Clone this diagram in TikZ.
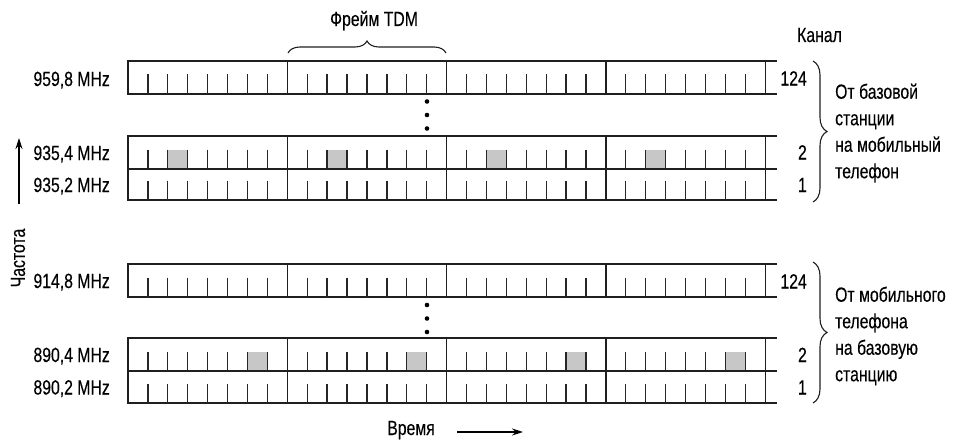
\documentclass[tikz,border=0pt]{standalone}
\usepackage{fontspec}
\setmainfont[FakeStretch=0.77,FakeBold=0.3]{Liberation Sans}
\usetikzlibrary{decorations.pathreplacing,arrows.meta}
\begin{document}
\begin{tikzpicture}[x=1pt,y=-1pt,
  rowline/.style={line width=1.3pt, draw=black!88},
  tickline/.style={line width=1.3pt, draw=black!85},
  lbl/.style={font=\fontsize{20.5}{26.5}\selectfont, inner sep=0pt},
  slotfill/.style={fill=black!22},
  dotmark/.style={circle, fill=black, inner sep=0pt, minimum size=4.6pt},
  bracedeco/.style={decorate, decoration={brace, amplitude=#1}, line width=1.1pt, draw=black!88},
  axisarrow/.style={-{Stealth[length=11pt,width=7pt]}, line width=1.2pt},
]
\useasboundingbox (0,0) rectangle (956,444);
\def\xL{128}\def\fw{159.3}\def\sw{19.9125}\def\xR{777}\def\th{19.5}
% rows: top/bottom/shaded slot
\foreach \t/\b/\s in {61/94/0,136/169/3,169/200/0,264/297/0,338/371/7,371/403/0}{
  \ifnum\s>0
    \foreach \f in {0,...,3}{
      \fill[slotfill] ({\xL+\f*\fw+(\s-1)*\sw},{\b-\th}) rectangle ({\xL+\f*\fw+\s*\sw},\b);
    }
  \fi
  \draw[rowline] (\xR,\t) -- (\xL,\t) -- (\xL,\b) -- (\xR,\b);
  \foreach \f in {1,...,4}{
    \draw[rowline] ({\xL+\f*\fw},\t) -- ({\xL+\f*\fw},\b);
  }
  \foreach \f in {0,...,3}{
    \foreach \k in {1,...,7}{
      \draw[tickline] ({\xL+\f*\fw+\k*\sw},{\b-\th}) -- ({\xL+\f*\fw+\k*\sw},\b);
    }
  }
}
% dots
\foreach \y [count=\i] in {101.5,115,128.5}{\node[dotmark] (dt\i) at (427,\y) {};}
\foreach \y [count=\i] in {305,318.5,332}{\node[dotmark] (db\i) at (427,\y) {};}
% frequency labels
\node[lbl, anchor=base east] (f1) at (110,86) {959,8 MHz};
\node[lbl, anchor=base east] (f2) at (110,160) {935,4 MHz};
\node[lbl, anchor=base east] (f3) at (110,192) {935,2 MHz};
\node[lbl, anchor=base east] (f4) at (110,288) {914,8 MHz};
\node[lbl, anchor=base east] (f5) at (110,362) {890,4 MHz};
\node[lbl, anchor=base east] (f6) at (110,394.5) {890,2 MHz};
% channel numbers
\node[lbl, anchor=base] (kanal) at (819.5,42) {Канал};
\node[lbl, anchor=base east] (c1) at (807,85.5) {124};
\node[lbl, anchor=base east] (c2) at (807,159.5) {2};
\node[lbl, anchor=base east] (c3) at (807,192) {1};
\node[lbl, anchor=base east] (c4) at (807,288.5) {124};
\node[lbl, anchor=base east] (c5) at (807,362) {2};
\node[lbl, anchor=base east] (c6) at (807,394.5) {1};
% frame brace
\coordinate (fbA) at (288,53);
\coordinate (fbB) at (446,53);
\draw[bracedeco=12pt] (fbA) -- (fbB);
\node[lbl, anchor=base] (frame) at (374,26) {Фрейм TDM};
% right braces
\coordinate (rb1A) at (813,61);
\coordinate (rb1B) at (813,202);
\draw[bracedeco=14pt] (rb1A) -- (rb1B);
\coordinate (rb2A) at (813,262);
\coordinate (rb2B) at (813,403);
\draw[bracedeco=14pt] (rb2A) -- (rb2B);
\node[lbl, anchor=west, align=left] (down) at (835,133) {От базовой\\станции\\на мобильный\\телефон};
\node[lbl, anchor=west, align=left] (up) at (835,336) {От мобильного\\телефона\\на базовую\\станцию};
% axes
\coordinate (fa0) at (19,204);
\coordinate (fa1) at (19,138);
\draw[axisarrow] (fa0) -- (fa1);
\node[lbl, rotate=90] (freq) at (18,258) {Частота};
\node[lbl, anchor=base] (time) at (411,435) {Время};
\coordinate (ta0) at (457,432);
\coordinate (ta1) at (523,432);
\draw[axisarrow] (ta0) -- (ta1);
\end{tikzpicture}
\end{document}
